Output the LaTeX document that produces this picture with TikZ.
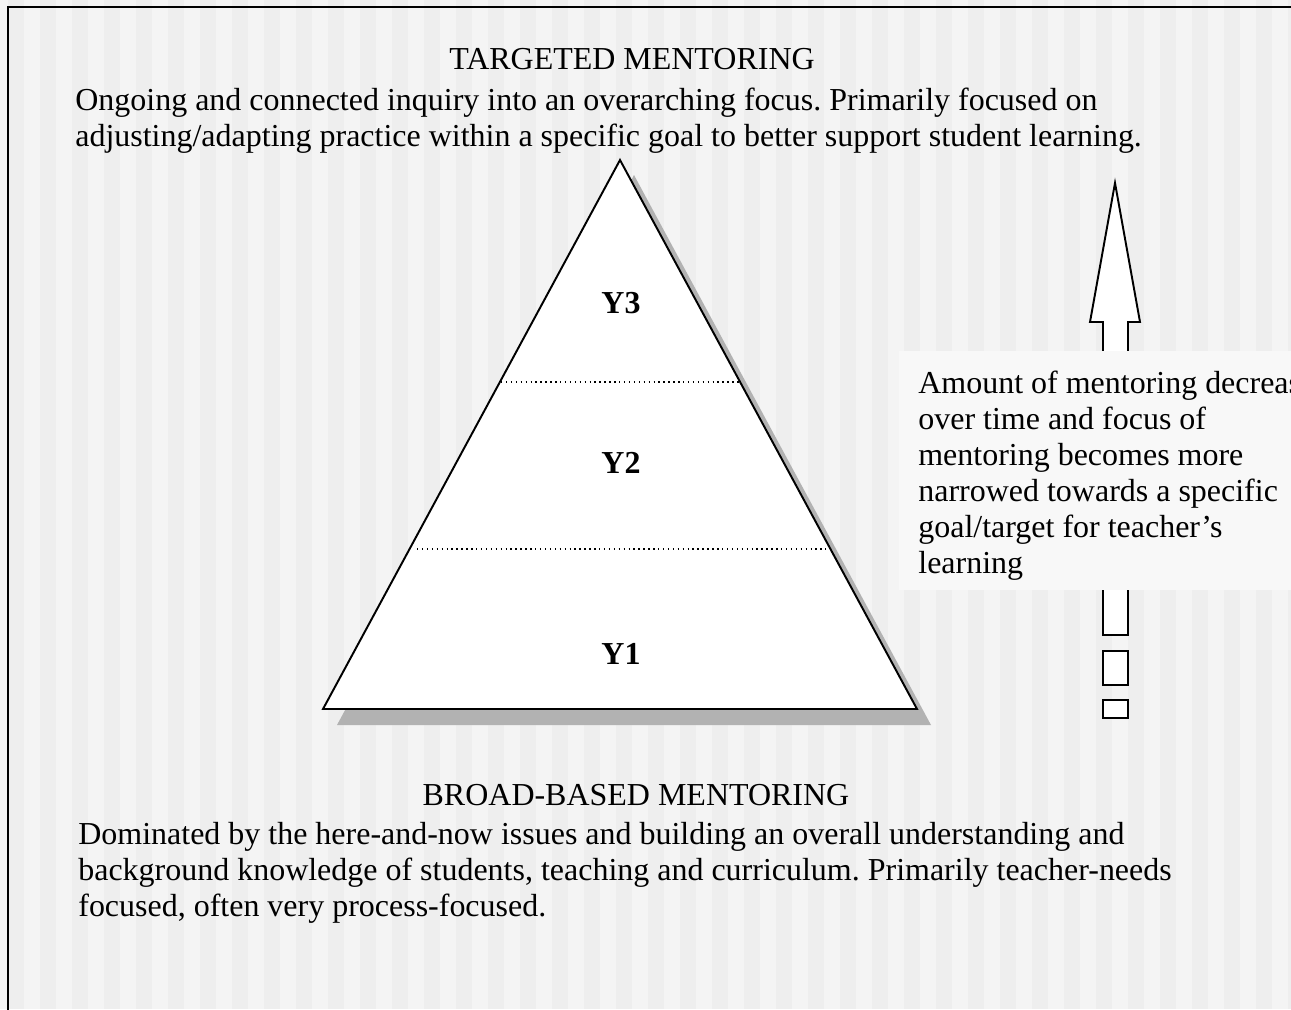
\documentclass[tikz,border=0pt]{standalone}
\usepackage{fontspec}
\setmainfont{Liberation Serif}
\frenchspacing
\definecolor{stripedark}{HTML}{EEEEEE}
\definecolor{stripelight}{HTML}{F4F4F4}
\definecolor{shadowgray}{HTML}{B2B2B2}
\definecolor{notefill}{HTML}{F8F8F8}
\tikzset{
  bodytext/.style={anchor=base west,align=left,inner sep=0pt,font=\fontsize{18.2}{20.4}\selectfont},
  headtext/.style={anchor=base,inner sep=0pt,font=\fontsize{18.2}{20.4}\selectfont},
  yearlabel/.style={inner sep=0pt,font=\fontsize{18.2}{20.4}\selectfont\bfseries},
}
\begin{document}
\begin{tikzpicture}[x=0.02cm,y=-0.02cm]
\useasboundingbox (0,0) rectangle (1291,1009);
\clip (0,0) rectangle (1291,1009);
% striped background and frame
\fill[stripelight] (0,0) rectangle (1291,1009);
\foreach \i in {0,...,40}
  \fill[stripedark] ({8+32*\i},0) rectangle ({24+32*\i},1009);
\draw[line width=1.4pt] (8,1030) -- (8,7) -- (1310,7);

% pyramid
\fill[shadowgray] (634,175) -- (931,725) -- (337,725) -- cycle;
\draw[fill=white,line width=1.1pt] (620,160) -- (917,709) -- (323,709) -- cycle;
\draw[dotted,line width=0.8pt] (501,382) -- (741,382);
\draw[dotted,line width=0.8pt] (417,549) -- (826,549);
\node[yearlabel] (y3) at (621,303) {Y3};
\node[yearlabel] (y2) at (621,463) {Y2};
\node[yearlabel] (y1) at (621,654) {Y1};

% hollow arrow, broken at the bottom
\draw[fill=white,line width=1.1pt] (1103,635) -- (1103,322) -- (1090,322) -- (1115,183)
  -- (1140,322) -- (1128,322) -- (1128,635) -- cycle;
\draw[fill=white,line width=1.4pt] (1103,651) rectangle (1128,685);
\draw[fill=white,line width=1.4pt] (1103,700) rectangle (1128,718);

% side note (base is the last line)
\fill[notefill] (899,351) rectangle (1300,590);
\node[bodytext] (note) at (918,573) {Amount of mentoring decreases\\over time and focus of\\mentoring becomes more\\narrowed towards a specific\\goal/target for teacher’s\\learning};

% top and bottom texts
\node[headtext] (targeted) at (632,69) {TARGETED MENTORING};
\node[bodytext] (targeteddesc) at (75,146) {Ongoing and connected inquiry into an overarching focus. Primarily focused on\\adjusting/adapting practice within a specific goal to better support student learning.};
\node[headtext] (broad) at (636,805) {BROAD-BASED MENTORING};
\node[bodytext] (broaddesc) at (78,916) {Dominated by the here-and-now issues and building an overall understanding and\\background knowledge of students, teaching and curriculum. Primarily teacher-needs\\focused, often very process-focused.};
\end{tikzpicture}
\end{document}
